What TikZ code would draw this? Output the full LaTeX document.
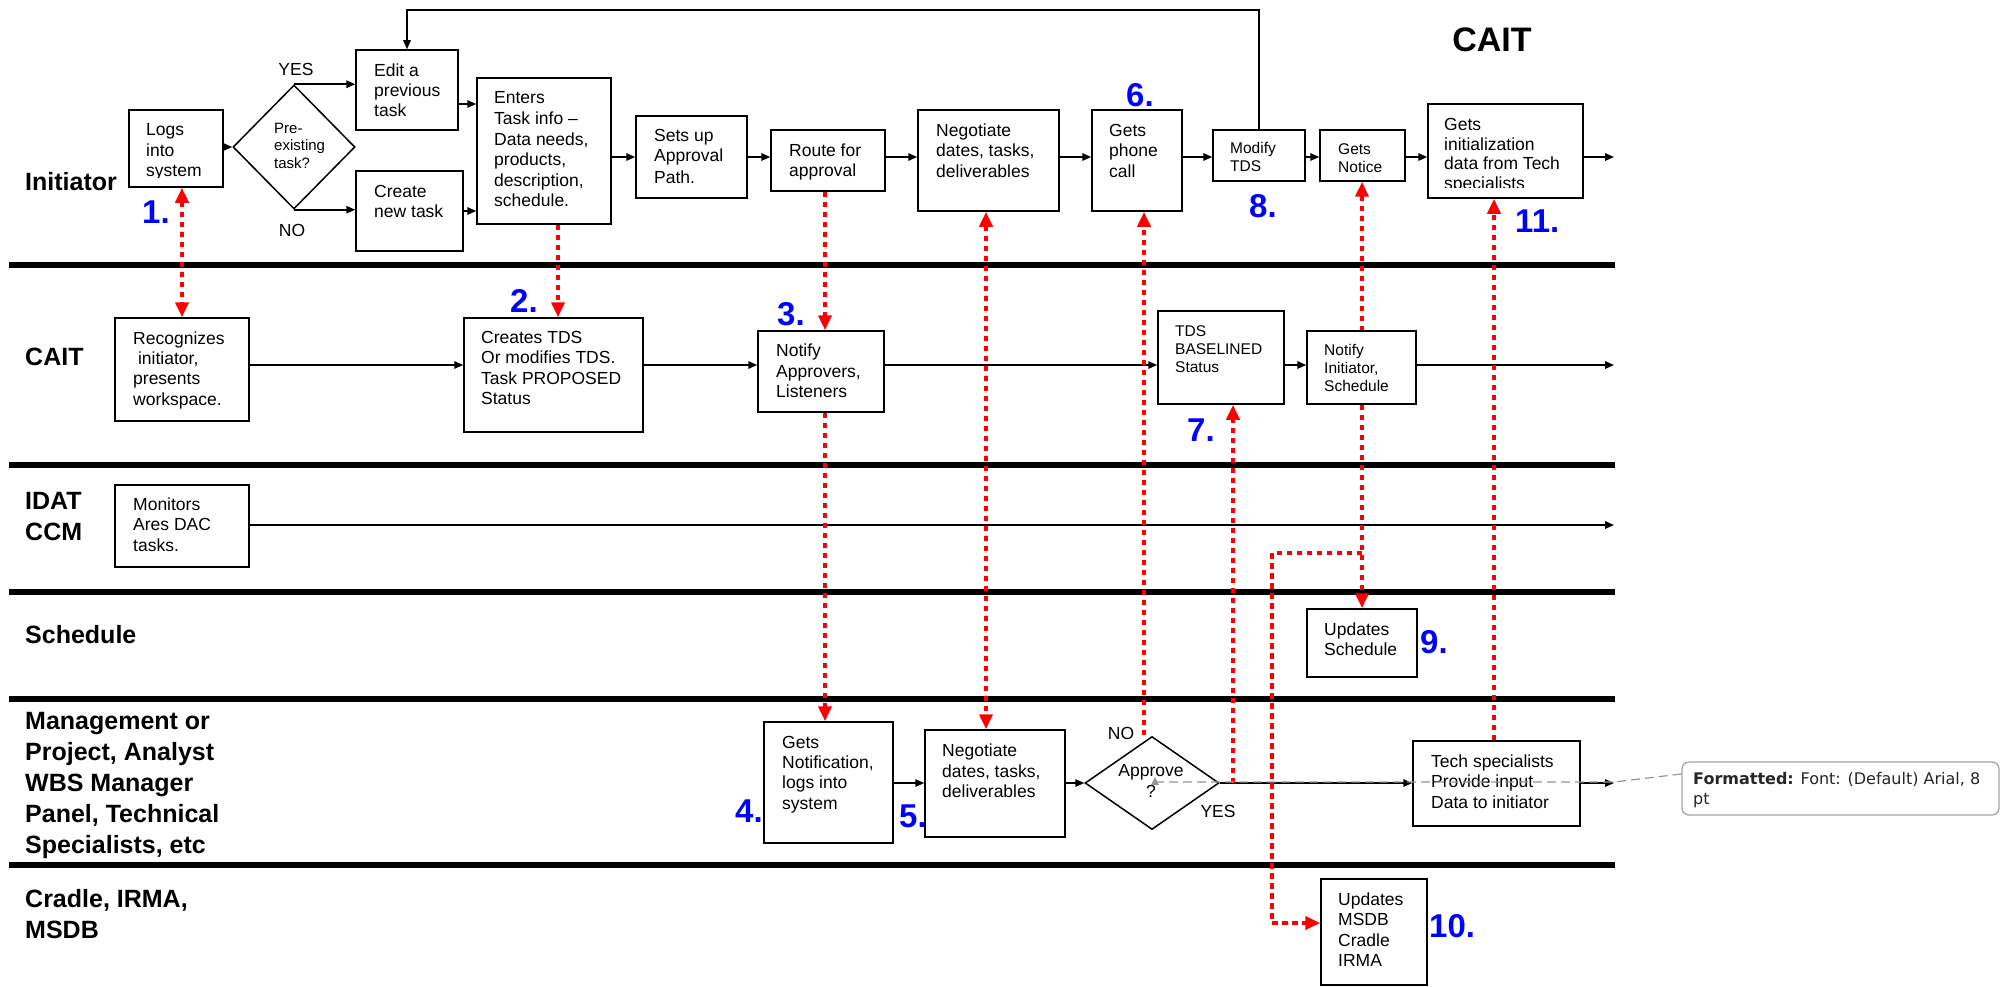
\documentclass[tikz,border=0pt]{standalone}
\usepackage{fontspec}
\setmainfont{Liberation Sans}
\newfontfamily\notefont{DejaVu Sans}
\usetikzlibrary{arrows.meta,shapes.geometric,fit}
\definecolor{linkred}{RGB}{255,0,0}
\definecolor{stepblue}{RGB}{0,0,255}
\definecolor{notegray}{RGB}{165,165,165}
\definecolor{noteline}{RGB}{150,150,150}
% multi-line text nodes are placed by the baseline of their last line
\tikzset{
  lane/.style={line width=6.5pt},
  box/.style={draw, fill=white, line width=1.5pt, inner sep=0pt},
  decision/.style={diamond, draw, fill=white, line width=1.5pt, inner sep=0pt},
  flow/.style={line width=1.5pt, -{Triangle[length=9pt,width=7.5pt]}},
  link/.style={draw=linkred, line width=4.5pt, dash pattern=on 5.5pt off 4.5pt},
  linkend/.style={link, -{Triangle[length=15pt,width=13pt]}},
  linkboth/.style={link, {Triangle[length=15pt,width=13pt]}-{Triangle[length=15pt,width=13pt]}},
  linkstart/.style={link, {Triangle[length=15pt,width=13pt]}-},
  txt/.style={font=\fontsize{17.5}{20.5}\selectfont, align=left, inner sep=0pt, anchor=base west},
  txtsmall/.style={txt, font=\fontsize{15.5}{18}\selectfont},
  lanelabel/.style={font=\fontsize{25}{30.8}\selectfont\bfseries, align=left, inner sep=0pt, anchor=base west},
  stepno/.style={font=\fontsize{33}{33}\selectfont\bfseries, text=stepblue, inner sep=0pt, anchor=base west},
}
\begin{document}
\begin{tikzpicture}[x=1pt,y=-1pt]
\useasboundingbox (0,0) rectangle (2001,987);

% swimlane separators
\foreach \yy in {265,465,592,699,865} \draw[lane] (9,\yy) -- (1615,\yy);

% lane titles
\node[lanelabel] (l-init) at (25,191) {Initiator};
\node[lanelabel] (l-cait) at (25,365) {CAIT};
\node[lanelabel, font=\fontsize{25}{31}\selectfont\bfseries] (l-idat) at (25,540) {IDAT\\CCM};
\node[lanelabel] (l-sched) at (25,643) {Schedule};
\node[lanelabel] (l-mgmt) at (25,853) {Management or\\Project, Analyst\\WBS Manager\\Panel, Technical\\Specialists, etc};
\node[lanelabel, font=\fontsize{25}{31}\selectfont\bfseries] (l-cradle) at (25,938) {Cradle, IRMA,\\MSDB};
\node[font=\fontsize{34}{34}\selectfont\bfseries, inner sep=0pt, anchor=base] (title) at (1492,52) {CAIT};

% process boxes and decisions
\node[box, fit={(129,110) (223,187)}] (logs) {};
\node[decision, minimum width=122pt, minimum height=124pt] (pre) at (294,147) {};
\node[box, fit={(356,50) (458,130)}] (edit) {};
\node[box, fit={(356,171) (463,251)}] (create) {};
\node[box, fit={(477,78) (611,224)}] (enters) {};
\node[box, fit={(636,116) (747,198)}] (setsup) {};
\node[box, fit={(771,130) (885,191)}] (route) {};
\node[box, fit={(918,110) (1059,211)}] (nego1) {};
\node[box, fit={(1092,110) (1182,211)}] (phone) {};
\node[box, fit={(1213,130) (1305,181)}] (modify) {};
\node[box, fit={(1320,130) (1405,181)}] (notice) {};
\node[box, fit={(1428,104) (1583,198)}] (init) {};
\node[box, fit={(115,318) (249,421)}] (recog) {};
\node[box, fit={(464,318) (643,432)}] (creates) {};
\node[box, fit={(758,331) (884,412)}] (notifyA) {};
\node[box, fit={(1158,311) (1284,404)}] (tdsb) {};
\node[box, fit={(1307,331) (1416,404)}] (notifyI) {};
\node[box, fit={(115,485) (249,567)}] (monitors) {};
\node[box, fit={(1307,609) (1417,677)}] (updsched) {};
\node[box, fit={(764,722) (893,843)}] (getsnot) {};
\node[box, fit={(925,730) (1065,837)}] (nego2) {};
\node[decision, minimum width=134pt, minimum height=93pt] (approve) at (1152,783) {};
\node[box, fit={(1413,741) (1580,826)}] (tech) {};
\node[box, fit={(1321,879) (1427,985)}] (updmsdb) {};

% box texts
\begin{scope}
  \clip (129,110) rectangle (223,178);
  \node[txt] (logs-t) at (146,177) {Logs\\into\\system};
\end{scope}
\node[txt, font=\fontsize{15}{17.5}\selectfont] (pre-t) at (274,168) {Pre-\\existing\\task?};
\node[txt, font=\fontsize{17.5}{20}\selectfont] (edit-t) at (374,117) {Edit a\\previous\\task};
\node[txt] (create-t) at (374,217.5) {Create\\new task};
\node[txt] (enters-t) at (494,206.5) {Enters\\Task info –\\Data needs,\\products,\\description,\\schedule.};
\node[txt, font=\fontsize{17.5}{21}\selectfont] (setsup-t) at (654,183) {Sets up\\Approval\\Path.};
\node[txt, font=\fontsize{17.5}{20}\selectfont] (route-t) at (789,177) {Route for\\approval};
\node[txt] (nego1-t) at (936,177.5) {Negotiate\\dates, tasks,\\deliverables};
\node[txt] (phone-t) at (1109,177.5) {Gets\\phone\\call};
\node[txtsmall] (modify-t) at (1230,172) {Modify\\TDS};
\node[txtsmall] (notice-t) at (1338,172.5) {Gets\\Notice};
\begin{scope}
  \clip (1428,104) rectangle (1583,188);
  \node[txt, font=\fontsize{17.5}{19.5}\selectfont] (init-t) at (1444,189.5) {Gets\\initialization\\data from Tech\\specialists};
\end{scope}
\node[txt, font=\fontsize{17.5}{20.3}\selectfont] (recog-t) at (133,405) {Recognizes\\\ initiator,\\presents\\workspace.};
\node[txt] (creates-t) at (481,404.5) {Creates TDS\\Or modifies TDS.\\Task PROPOSED\\Status};
\node[txt] (notifyA-t) at (776,397.5) {Notify\\Approvers,\\Listeners};
\node[txtsmall] (tdsb-t) at (1175,372) {TDS\\BASELINED\\Status};
\node[txtsmall] (notifyI-t) at (1324,391) {Notify\\Initiator,\\Schedule};
\node[txt] (monitors-t) at (133,551) {Monitors\\Ares DAC\\tasks.};
\node[txt, font=\fontsize{17.5}{20}\selectfont] (updsched-t) at (1324,655) {Updates\\Schedule};
\node[txt, font=\fontsize{17.5}{20.3}\selectfont] (getsnot-t) at (782,809) {Gets\\Notification,\\logs into\\system};
\node[txt] (nego2-t) at (942,797.5) {Negotiate\\dates, tasks,\\deliverables};
\node[txt, align=center, anchor=base, font=\fontsize{17.5}{21}\selectfont] (approve-t) at (1151,797) {Approve\\?};
\node[txt] (tech-t) at (1431,808) {Tech specialists\\Provide input\\Data to initiator};
\node[txt] (updmsdb-t) at (1338,966.5) {Updates\\MSDB\\Cradle\\IRMA};

% decision branch labels
\node[txt, anchor=base] (yes1) at (296,76) {YES};
\node[txt, anchor=base] (no1) at (292,236) {NO};
\node[txt, anchor=base] (no2) at (1121,739) {NO};
\node[txt, anchor=base] (yes2) at (1218,817) {YES};

% rows of the flow lines
\coordinate (yTop) at (0,10);
\coordinate (rowEdit) at (0,104);
\coordinate (rowCreate) at (0,211);
\coordinate (rowInit) at (0,157);
\coordinate (rowCait) at (0,365);
\coordinate (rowIdat) at (0,525);
\coordinate (rowMgmt) at (0,783);
\coordinate (xEnd) at (1614,0);

% initiator flow
\draw[flow] (logs.east |- pre.west) -- (pre.west);
\draw[flow] (pre.north) -- (pre.north -| edit.west);
\draw[flow] (pre.south) -- (pre.south -| create.west);
\draw[flow] (edit.east |- rowEdit) -- (enters.west |- rowEdit);
\draw[flow] (create.east |- rowCreate) -- (enters.west |- rowCreate);
\draw[flow] (enters.east |- rowInit) -- (setsup.west |- rowInit);
\draw[flow] (setsup.east |- rowInit) -- (route.west |- rowInit);
\draw[flow] (route.east |- rowInit) -- (nego1.west |- rowInit);
\draw[flow] (nego1.east |- rowInit) -- (phone.west |- rowInit);
\draw[flow] (phone.east |- rowInit) -- (modify.west |- rowInit);
\draw[flow] (modify.east |- rowInit) -- (notice.west |- rowInit);
\draw[flow] (notice.east |- rowInit) -- (init.west |- rowInit);
\draw[flow] (init.east |- rowInit) -- (xEnd |- rowInit);
\draw[flow] (modify.north) -- (modify.north |- yTop) -- (edit.north |- yTop) -- (edit.north);

% CAIT flow
\draw[flow] (recog.east |- rowCait) -- (creates.west |- rowCait);
\draw[flow] (creates.east |- rowCait) -- (notifyA.west |- rowCait);
\draw[flow] (notifyA.east |- rowCait) -- (tdsb.west |- rowCait);
\draw[flow] (tdsb.east |- rowCait) -- (notifyI.west |- rowCait);
\draw[flow] (notifyI.east |- rowCait) -- (xEnd |- rowCait);

% IDAT / CCM flow
\draw[flow] (monitors.east |- rowIdat) -- (xEnd |- rowIdat);

% management flow
\draw[flow] (getsnot.east |- rowMgmt) -- (nego2.west |- rowMgmt);
\draw[flow] (nego2.east |- rowMgmt) -- (approve.west);
\draw[flow] (approve.east) -- (tech.west |- rowMgmt);
\draw[flow] (tech.east |- rowMgmt) -- (xEnd |- rowMgmt);

% cross-lane interactions
\coordinate (xA) at (558,0);
\coordinate (xC) at (825,0);
\coordinate (xD) at (986,0);
\coordinate (xH) at (1362,0);
\coordinate (xG) at (1494,0);
\coordinate (noStart) at (1144,735);
\coordinate (yesStart) at (1233,783);
\coordinate (branch) at (1362,553);
\coordinate (bendA) at (1272,553);
\coordinate (bendB) at (1272,923);

\draw[linkboth] (recog.north |- logs.south) -- (recog.north);
\draw[linkend] (enters.south -| xA) -- (creates.north -| xA);
\draw[linkend] (route.south -| xC) -- (notifyA.north -| xC);
\draw[linkend] (notifyA.south -| xC) -- (getsnot.north -| xC);
\draw[linkboth] (nego1.south -| xD) -- (nego2.north -| xD);
\draw[linkend] (noStart) -- (phone.south -| noStart);
\draw[linkend] (yesStart) -- (tdsb.south -| yesStart);
\draw[linkstart] (notice.south -| xH) -- (notifyI.north -| xH);
\draw[linkend] (notifyI.south -| xH) -- (updsched.north -| xH);
\draw[linkend] (branch) -- (bendA) -- (bendB) -- (updmsdb.west |- bendB);
\draw[linkend] (tech.north -| xG) -- (init.south -| xG);

% step numbers
\node[stepno] (n1) at (142,223) {1.};
\node[stepno] (n2) at (510,312) {2.};
\node[stepno] (n3) at (777,325) {3.};
\node[stepno] (n4) at (735,822) {4.};
\node[stepno] (n5) at (899,827) {5.};
\node[stepno] (n6) at (1126,107) {6.};
\node[stepno] (n7) at (1187,441) {7.};
\node[stepno] (n8) at (1249,218) {8.};
\node[stepno] (n9) at (1420,653) {9.};
\node[stepno] (n10) at (1429,937) {10.};
\node[stepno] (n11) at (1515,232) {11.};

% formatting comment balloon
\node[draw=notegray, fill=white, rounded corners=7pt, line width=1.3pt, inner sep=0pt, fit={(1682,762) (1999,815)}] (note) {};
\node[anchor=base west, align=left, inner sep=0pt, text=black!85, font=\notefont\fontsize{16}{20}\selectfont] (note-t) at (1693,804) {\textbf{Formatted:} Font: (Default) Arial, 8\\pt};
\coordinate (noteStart) at (1155,782);
\coordinate (noteBend) at (1614,782);
\coordinate (noteEnd) at (1682,774);
\draw[noteline, line width=1.2pt, dash pattern=on 9pt off 5pt] (noteStart) -- (noteBend) -- (note.west |- noteEnd);
\fill[noteline] (1151,785) -- (1159,785) -- (1155,777) -- cycle;
\end{tikzpicture}
\end{document}
